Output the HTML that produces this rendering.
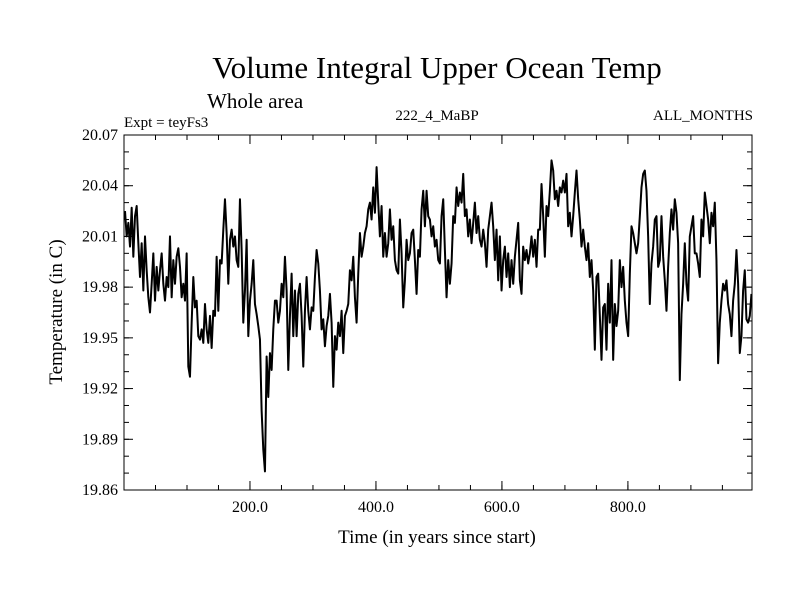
<!DOCTYPE html>
<html><head><meta charset="utf-8"><style>
html,body{margin:0;padding:0;background:#fff;width:800px;height:600px;overflow:hidden}
svg{display:block;font-family:"Liberation Serif",serif}
</style></head><body>
<svg id="chart" width="800" height="600">
<text x="437" y="78" font-size="31" text-anchor="middle">Volume Integral Upper Ocean Temp</text>
<text x="207" y="108" font-size="21">Whole area</text>
<text x="124" y="127" font-size="15">Expt = teyFs3</text>
<text x="437" y="120" font-size="15" text-anchor="middle">222_4_MaBP</text>
<text x="753" y="120" font-size="15" text-anchor="end">ALL_MONTHS</text>
<text x="437" y="543" font-size="19" text-anchor="middle">Time (in years since start)</text>
<text transform="translate(62,312) rotate(-90)" font-size="19" text-anchor="middle">Temperature (in C)</text>
<g id="axes"></g>
<path id="series" fill="none" stroke="#000" stroke-width="2" stroke-linejoin="round"></path>
<rect x="124" y="135" width="628" height="355" fill="none" stroke="#000" stroke-width="1"></rect>
</svg>
<script>
const temps = [
20.025,20.010,20.018,20.004,20.027,19.998,20.022,20.028,20.006,19.986,20.006,19.978,20.010,19.990,19.974,19.965,19.982,20.000,19.972,19.992,19.978,19.990,20.000,19.982,19.972,19.986,19.980,20.010,19.974,19.996,19.982,19.998,20.003,19.992,19.974,19.982,19.972,20.000,19.933,19.927,19.959,19.986,19.968,19.972,19.951,19.949,19.955,19.947,19.970,19.955,19.947,19.963,19.944,19.966,19.963,19.998,19.966,19.996,19.994,20.014,20.032,20.012,19.982,20.008,20.014,20.004,20.010,19.996,19.992,20.032,20.002,19.959,19.978,20.008,19.951,19.972,19.982,19.996,19.970,19.964,19.957,19.949,19.907,19.884,19.871,19.939,19.915,19.941,19.931,19.955,19.972,19.972,19.959,19.966,19.982,19.974,19.998,
19.978,19.931,19.963,19.988,19.951,19.978,19.951,19.976,19.982,19.963,19.933,19.966,19.986,19.966,19.955,19.968,19.966,19.986,20.002,19.994,19.978,19.955,19.961,19.945,19.957,19.963,19.976,19.959,19.921,19.951,19.943,19.959,19.951,19.966,19.941,19.963,19.966,19.970,19.990,19.984,19.998,19.974,19.959,19.988,20.012,19.998,20.004,20.012,20.016,20.026,20.030,20.020,20.039,20.024,20.051,20.030,20.010,20.028,19.998,20.012,19.998,20.006,20.026,20.008,20.016,19.996,19.990,19.988,20.020,20.000,19.968,19.984,20.008,19.996,20.000,20.012,20.014,19.996,19.976,20.002,19.998,20.026,20.037,20.016,20.037,20.022,20.020,20.010,20.016,20.004,20.008,19.996,19.994,20.022,20.032,
20.002,19.974,19.996,19.982,19.994,20.022,20.018,20.039,20.028,20.036,20.030,20.047,20.022,20.026,20.010,20.020,20.006,20.018,20.030,20.012,20.022,20.008,20.004,20.014,20.006,19.992,20.014,20.022,20.030,20.016,19.996,20.014,19.984,20.010,19.978,19.996,20.004,19.986,20.000,19.980,19.996,19.982,19.998,20.008,20.018,19.984,19.976,20.004,19.996,20.002,19.994,20.000,20.010,19.998,20.008,19.992,20.014,20.014,20.041,20.022,19.998,20.028,20.022,20.037,20.055,20.049,20.032,20.037,20.028,20.039,20.036,20.043,20.036,20.047,20.016,20.024,20.010,20.022,20.036,20.049,20.032,20.020,20.004,20.014,20.004,19.996,20.006,19.986,19.996,19.978,19.943,19.986,19.988,19.963,19.937,19.968,
19.970,19.943,19.982,19.959,19.996,19.937,19.970,19.957,19.966,19.996,19.980,19.992,19.972,19.959,19.951,19.988,20.016,20.012,20.006,20.000,20.006,20.022,20.039,20.047,20.049,20.037,20.010,19.970,19.994,20.004,20.020,20.022,19.992,19.996,20.022,19.998,19.984,19.966,19.992,20.012,20.026,20.014,20.032,20.024,20.006,19.925,19.964,19.982,20.006,19.982,19.972,20.010,20.016,20.022,20.000,20.000,19.994,19.986,20.020,20.010,20.036,20.028,20.020,20.006,20.024,20.016,20.030,19.996,19.935,19.959,19.972,19.982,19.978,19.984,19.970,19.964,19.951,19.972,19.982,20.002,19.982,19.941,19.951,19.978,19.990,19.961,19.959,19.963,19.976
];
const firstYear = 1.6;
const yearStep = 2.645;
const years = [];
for (let i = 0; i < temps.length; i++) years.push(+(firstYear + i * yearStep).toFixed(2));
const yTickValues = [19.86,19.89,19.92,19.95,19.98,20.01,20.04,20.07];
const yTickLabels = ["19.86","19.89","19.92","19.95","19.98","20.01","20.04","20.07"];
const xTickValues = [200,400,600,800];
const xTickLabels = ["200.0","400.0","600.0","800.0"];

const L=124,R=752,T=135,B=490;
const xMin=0,xMax=997,yMin=19.86,yMax=20.07;
function sx(v){return L+(v-xMin)/(xMax-xMin)*(R-L);}
function sy(v){return B-(v-yMin)/(yMax-yMin)*(B-T);}
const NS="http://www.w3.org/2000/svg";
const axes=document.getElementById('axes');
function line(x1,y1,x2,y2,name){
  const l=document.createElementNS(NS,'line');
  l.setAttribute('x1',x1);l.setAttribute('y1',y1);l.setAttribute('x2',x2);l.setAttribute('y2',y2);
  l.setAttribute('stroke','#000');l.setAttribute('stroke-width','1');
  
  
  axes.appendChild(l);
}
function text(x,y,s,anchor,name){
  const t=document.createElementNS(NS,'text');
  t.setAttribute('x',x);t.setAttribute('y',y);t.setAttribute('font-size','16');t.setAttribute('text-anchor',anchor);
  t.textContent=s;
  
  
  axes.appendChild(t);
}
for(let v=yMin; v<=yMax+1e-9; v+=0.01){
  const y=sy(v);
  line(L,y,L+5,y,'y-minor-tick');line(R,y,R-5,y,'y-minor-tick');
}
yTickValues.forEach((v,i)=>{
  const y=sy(v);
  line(L,y,L+9,y,'y-major-tick');line(R,y,R-9,y,'y-major-tick');
  text(L-6,y+5,yTickLabels[i],'end','y-tick-label');
});
for(let v=50; v<xMax; v+=50){
  const x=sx(v);
  line(x,B,x,B-5,'x-minor-tick');line(x,T,x,T+5,'x-minor-tick');
}
xTickValues.forEach((v,i)=>{
  const x=sx(v);
  line(x,B,x,B-9,'x-major-tick');line(x,T,x,T+9,'x-major-tick');
  text(x,B+22,xTickLabels[i],'middle','x-tick-label');
});
let d='';
temps.forEach((t,i)=>{d+=(i?'L':'M')+sx(years[i]).toFixed(2)+' '+sy(t).toFixed(2);});
document.getElementById('series').setAttribute('d',d);
</script>
</body></html>
